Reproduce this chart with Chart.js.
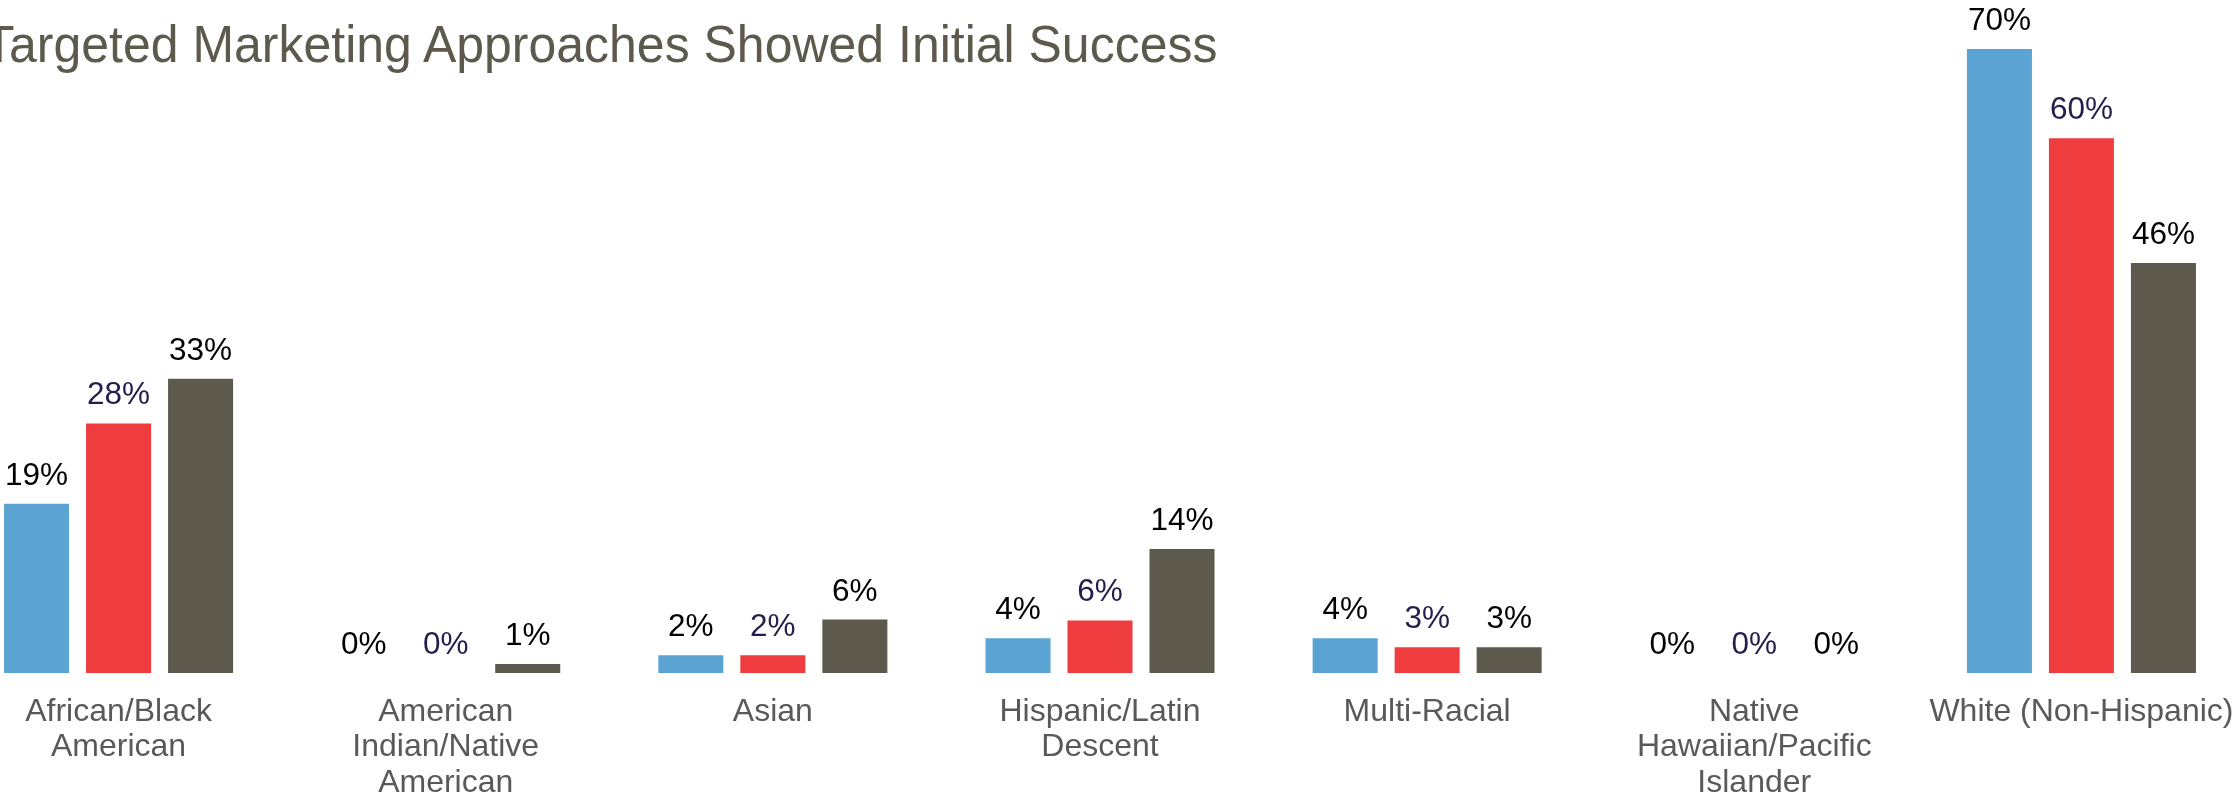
<!DOCTYPE html>
<html>
<head>
<meta charset="utf-8">
<script src="https://cdn.jsdelivr.net/npm/chart.js@4/dist/chart.umd.min.js"></script>
<style>
  html, body { margin: 0; padding: 0; width: 2234px; height: 799px; overflow: hidden; background: #fff; }
  #title { position: absolute; right: 1017px; top: 18px; white-space: nowrap;
           font-family: "Liberation Sans", Arial, sans-serif; font-size: 52px; line-height: 52px; color: #5d594c;
           transform: scaleX(0.961); transform-origin: right center; }
  #c { position: absolute; left: -45px; top: 0; }
</style>
</head>
<body>
<div id="title">Targeted Marketing Approaches Showed Initial Success</div>
<canvas id="c" width="2290" height="799"></canvas>
<script>
const categories = [
  ["African/Black", "American"],
  ["American", "Indian/Native", "American"],
  "Asian",
  ["Hispanic/Latin", "Descent"],
  "Multi-Racial",
  ["Native", "Hawaiian/Pacific", "Islander"],
  "White (Non-Hispanic)"
];
const seriesA = [19, 0, 2, 3.9, 3.9, 0, 70];
const seriesB = [28, 0, 2, 5.9, 2.9, 0, 60];
const seriesC = [33, 1, 6, 13.9, 2.9, 0, 46];
const seriesNames = ["Series 1", "Series 2", "Series 3"];
const barColors = ["#5ba3d3", "#ef3d3f", "#5d594c"];
const labelColors = ["#000000", "#231e4d", "#000000"];

const valueLabels = {
  id: 'valueLabels',
  afterDatasetsDraw(chart) {
    const ctx = chart.ctx;
    ctx.save();
    ctx.font = '31.5px "Liberation Sans", Arial, sans-serif';
    ctx.textAlign = 'center';
    ctx.textBaseline = 'alphabetic';
    chart.data.datasets.forEach((ds, i) => {
      const meta = chart.getDatasetMeta(i);
      ctx.fillStyle = labelColors[i];
      meta.data.forEach((el, j) => {
        ctx.fillText(Math.round(ds.data[j]) + '%', el.x, el.y - 19);
      });
    });
    ctx.restore();
  }
};

new Chart(document.getElementById('c'), {
  type: 'bar',
  data: {
    labels: categories,
    datasets: [seriesA, seriesB, seriesC].map((d, i) => ({
      label: seriesNames[i],
      data: d,
      backgroundColor: barColors[i],
      borderWidth: 0,
      barPercentage: 0.793,
      categoryPercentage: 0.752
    }))
  },
  options: {
    responsive: false,
    animation: false,
    layout: { padding: 0 },
    plugins: { legend: { display: false }, tooltip: { enabled: false }, title: { display: false } },
    scales: {
      x: {
        grid: { display: false, drawTicks: false },
        border: { display: false },
        ticks: {
          color: '#595959',
          font: { family: '"Liberation Sans", Arial, sans-serif', size: 32, lineHeight: 1.11 },
          padding: 21,
          maxRotation: 0,
          autoSkip: false
        },
        afterFit: (scale) => { scale.height = 126; scale.paddingLeft = 0; scale.paddingRight = 0; }
      },
      y: {
        display: false,
        min: 0,
        max: 75.5
      }
    }
  },
  plugins: [valueLabels]
});
</script>
</body>
</html>
